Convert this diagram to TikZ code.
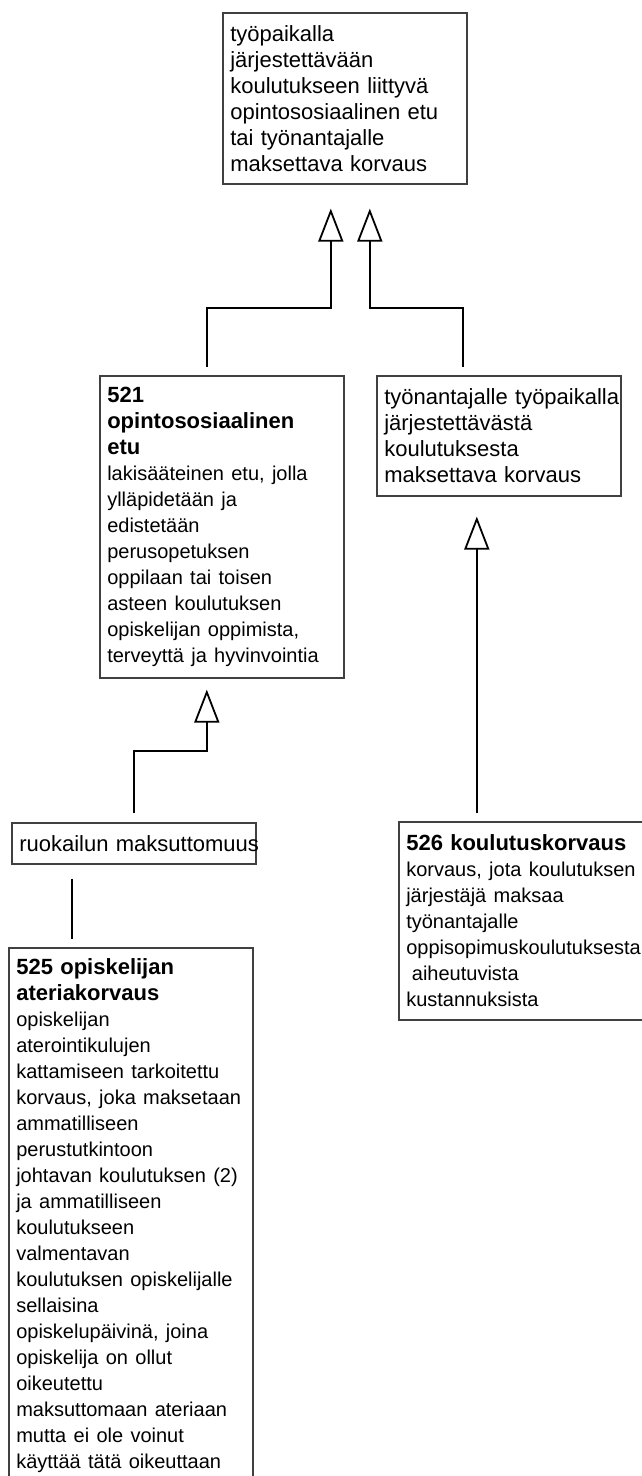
\documentclass[tikz,border=0pt]{standalone}
\usepackage{fontspec}
\setmainfont{Liberation Sans}
\usetikzlibrary{arrows.meta}
\definecolor{frame}{RGB}{64,64,64}
\newcommand{\desctext}{\fontsize{20}{26}\selectfont}

\begin{document}
\begin{tikzpicture}[x=1pt, y=-1pt,
  concept/.style={draw=frame, line width=1.6pt, anchor=north west, align=left,
                  text width=229pt, inner xsep=7.5pt, inner ysep=3pt,
                  font=\fontsize{22}{26}\selectfont,
                  execute at begin node={\hyphenpenalty=10000\exhyphenpenalty=10000}},
  isa/.style={draw, line width=1.8pt, -{Triangle[open, length=33pt, width=25pt]}},
  link/.style={draw, line width=1.8pt},
]
  \useasboundingbox (0,0) rectangle (641,1476);

  % Concepts
  \node[concept, minimum height=171pt] (top) at (222,12) {
    työpaikalla\\
    järjestettävään\\
    koulutukseen~liittyvä\\
    opintososiaalinen~etu\\
    tai~työnantajalle\\
    maksettava~korvaus
  };
  \node[concept, minimum height=302pt] (n521) at (99,375) {
    \textbf{521}\\
    \textbf{opintososiaalinen}\\
    \textbf{etu}\\
    \desctext lakisääteinen~etu,~jolla\\
    ylläpidetään~ja\\
    edistetään\\
    perusopetuksen\\
    oppilaan~tai~toisen\\
    asteen~koulutuksen\\
    opiskelijan~oppimista,\\
    terveyttä~ja~hyvinvointia
  };
  \node[concept, minimum height=120pt] (emp) at (376,375) {
    työnantajalle~työpaikalla\\
    järjestettävästä\\
    koulutuksesta\\
    maksettava~korvaus
  };
  \node[concept, minimum height=41pt] (ruok) at (11,822) {ruokailun~maksuttomuus};
  \node[concept, minimum height=198pt] (n526) at (398,821) {
    \textbf{526~koulutuskorvaus}\\
    \desctext korvaus,~jota~koulutuksen\\
    järjestäjä~maksaa\\
    työnantajalle\\
    oppisopimuskoulutuksesta\\
    \hspace*{0.28em}aiheutuvista\\
    kustannuksista
  };
  \node[concept, minimum height=535pt] (n525) at (8,947) {
    \textbf{525~opiskelijan}\\
    \textbf{ateriakorvaus}\\
    \desctext opiskelijan\\
    aterointikulujen\\
    kattamiseen~tarkoitettu\\
    korvaus,~joka~maksetaan\\
    ammatilliseen\\
    perustutkintoon\\
    johtavan~koulutuksen~(2)\\
    ja~ammatilliseen\\
    koulutukseen\\
    valmentavan\\
    koulutuksen~opiskelijalle\\
    sellaisina\\
    opiskelupäivinä,~joina\\
    opiskelija~on~ollut\\
    oikeutettu\\
    maksuttomaan~ateriaan\\
    mutta~ei~ole~voinut\\
    käyttää~tätä~oikeuttaan
  };

  % Generalisations
  \draw[isa] ([xshift=-15pt, yshift=8pt]n521.north) -- ++(0,-59) -| ([xshift=-14pt, yshift=-24pt]top.south);
  \draw[isa] ([xshift=-36pt, yshift=8pt]emp.north) -- ++(0,-59) -| ([xshift=25pt, yshift=-24pt]top.south);
  \draw[isa] ([yshift=9pt]ruok.north) -- ++(0,-62) -| ([xshift=-15pt, yshift=-11pt]n521.south);
  \draw[isa] ([xshift=-44pt, yshift=8pt]n526.north) -- ([xshift=-22pt, yshift=-20pt]emp.south);

  % Association
  \draw[link] ([xshift=-62pt, yshift=-14pt]ruok.south) -- ([xshift=-59pt, yshift=8pt]n525.north);
\end{tikzpicture}
\end{document}
